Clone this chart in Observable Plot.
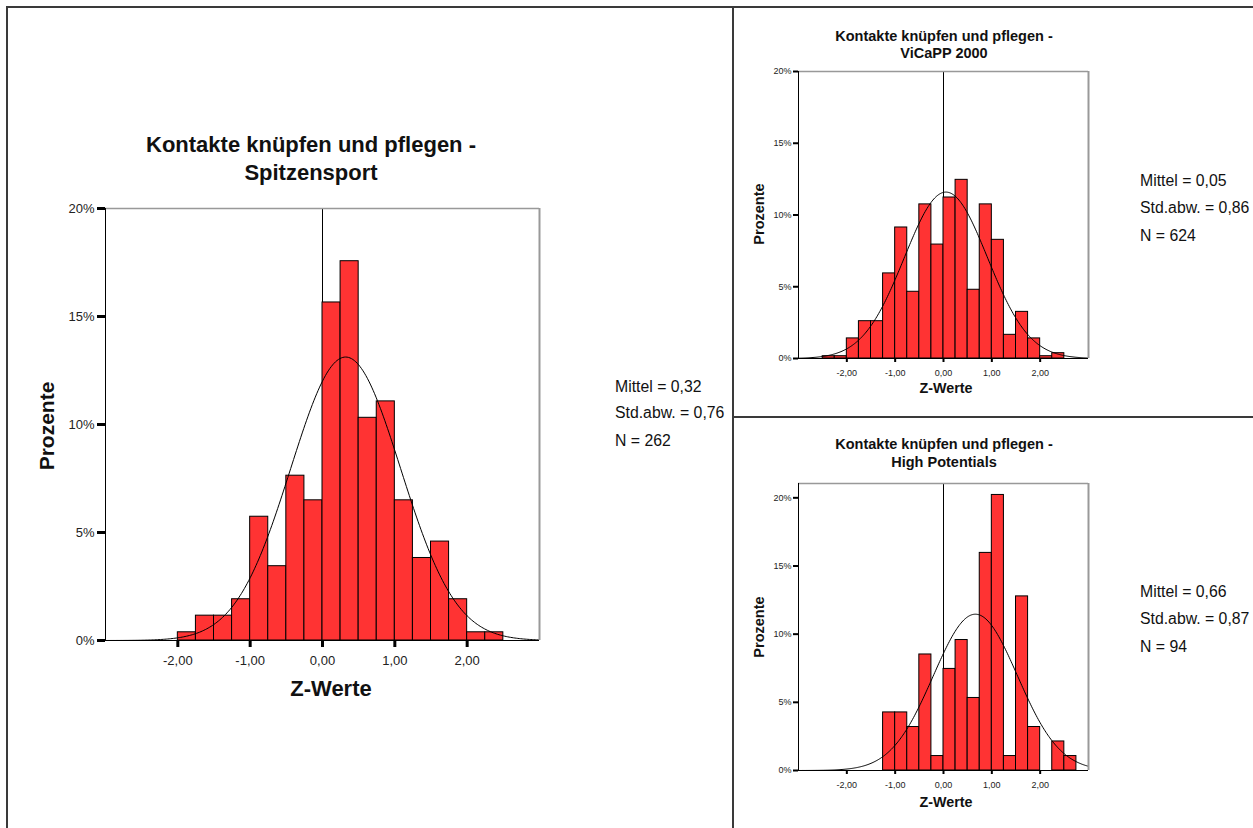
<!DOCTYPE html>
<html><head><meta charset="utf-8">
<script src="https://cdn.jsdelivr.net/npm/d3@7"></script>
<script src="https://cdn.jsdelivr.net/npm/@observablehq/plot@0.6"></script>
<style>
html,body{margin:0;padding:0;background:#fff;}
#page{position:relative;width:1253px;height:828px;overflow:hidden;font-family:"Liberation Sans",Arial,sans-serif;color:#111;}
.t{position:absolute;white-space:nowrap;line-height:1;}
.ln{position:absolute;background:#3a3a3a;}
.chart{position:absolute;}
</style></head>
<body><div id="page"></div>
<script>
// ---------- data ----------
const zTicks = [-2, -1, 0, 1, 2];
const pctTicks = [0, 5, 10, 15, 20];
const binWidth = 0.25;

const spitzenTitle = ["Kontakte knüpfen und pflegen -", "Spitzensport"];
const spitzenBinStart = [-2.0, -1.75, -1.5, -1.25, -1.0, -0.75, -0.5, -0.25, 0.0, 0.25, 0.5, 0.75, 1.0, 1.25, 1.5, 1.75, 2.0, 2.25];
const spitzenPct = [0.38, 1.15, 1.15, 1.91, 5.73, 3.44, 7.63, 6.49, 15.65, 17.56, 10.31, 11.07, 6.49, 3.82, 4.58, 1.91, 0.38, 0.38];
const spitzenStats = {mean: 0.32, sd: 0.76, n: 262};

const vicappTitle = ["Kontakte knüpfen und pflegen -", "ViCaPP 2000"];
const vicappBinStart = [-2.5, -2.25, -2.0, -1.75, -1.5, -1.25, -1.0, -0.75, -0.5, -0.25, 0.0, 0.25, 0.5, 0.75, 1.0, 1.25, 1.5, 1.75, 2.0, 2.25];
const vicappPct = [0.16, 0.16, 1.40, 2.60, 2.60, 5.93, 9.13, 4.65, 10.74, 7.94, 11.22, 12.45, 4.79, 10.74, 8.27, 1.65, 3.25, 1.40, 0.16, 0.37];
const vicappStats = {mean: 0.05, sd: 0.86, n: 624};

const hpTitle = ["Kontakte knüpfen und pflegen -", "High Potentials"];
const hpBinStart = [-1.25, -1.0, -0.75, -0.5, -0.25, 0.0, 0.25, 0.5, 0.75, 1.0, 1.25, 1.5, 1.75, 2.0, 2.25, 2.5];
const hpPct = [4.26, 4.26, 3.19, 8.51, 1.06, 7.45, 9.57, 5.32, 15.96, 20.21, 1.06, 12.77, 3.19, 0, 2.13, 1.06];
const hpStats = {mean: 0.66, sd: 0.87, n: 94};

const xLabel = "Z-Werte";
const yLabel = "Prozente";

// ---------- helpers ----------
const page = document.getElementById("page");
const fmtZ = d => d.toFixed(2).replace(".", ",");
const fmtP = d => d + "%";

function addText(txt, x, y, o = {}) {
  const d = document.createElement("div");
  d.className = "t";
  d.textContent = txt;
  d.style.left = x + "px";
  d.style.top = y + "px";
  d.style.fontSize = (o.size || 16) + "px";
  d.style.fontWeight = o.bold ? "bold" : "normal";
  let tr = o.anchor === "start" ? "translate(0,-50%)" : "translate(-50%,-50%)";
  if (o.rotate) tr += " rotate(-90deg)";
  d.style.transform = tr;
  page.appendChild(d);
}
function addLine(x, y, w, h) {
  const d = document.createElement("div");
  d.className = "ln";
  Object.assign(d.style, {left: x + "px", top: y + "px", width: w + "px", height: h + "px"});
  page.appendChild(d);
}

function histogram(binStart, pct, stats, L) {
  const bins = binStart.map((b, i) => ({x1: b, x2: b + binWidth, pct: pct[i]}));
  const scale = 100 * binWidth;
  const curve = d3.range(-3, 3.0001, 0.02).map(x => ({
    x, y: scale * Math.exp(-0.5 * ((x - stats.mean) / stats.sd) ** 2) / (stats.sd * Math.sqrt(2 * Math.PI))
  }));
  const svg = Plot.plot({
    width: L.width, height: L.height,
    marginLeft: L.ml, marginRight: L.mr, marginTop: L.mt, marginBottom: L.mb,
    style: {background: "transparent", fontFamily: '"Liberation Sans", Arial, sans-serif', overflow: "visible"},
    x: {domain: [-3, 3]},
    y: {domain: [0, L.yMax]},
    marks: [
      Plot.ruleX([0], {stroke: "#000", strokeWidth: 1}),
      Plot.rectY(bins, {x1: "x1", x2: "x2", y: "pct", fill: "#ff3333", stroke: "#000", strokeWidth: 1}),
      Plot.line(curve, {x: "x", y: "y", stroke: "#000", strokeWidth: 1, clip: true}),
      Plot.ruleY([L.yMax], {stroke: "#999", strokeWidth: 1.5}),
      Plot.ruleX([3], {stroke: "#999", strokeWidth: 2}),
      Plot.ruleX([-3], {stroke: "#000", strokeWidth: 1}),
      Plot.ruleY([0], {stroke: "#000", strokeWidth: 1}),
      Plot.axisY(pctTicks, {tickFormat: fmtP, tickSize: L.tsy, tickPadding: L.tpy, stroke: "#000", strokeWidth: L.tw, fontSize: L.fs, fill: "#222", label: null}),
      Plot.axisX(zTicks, {tickFormat: fmtZ, tickSize: L.tsx, tickPadding: L.tpx, stroke: "#000", strokeWidth: L.tw, fontSize: L.fs, fill: "#222", label: null})
    ]
  });
  const div = document.createElement("div");
  div.className = "chart";
  Object.assign(div.style, {left: L.left + "px", top: L.top + "px", width: L.width + "px", height: L.height + "px"});
  div.appendChild(svg);
  page.appendChild(div);
}

function statsText(s, x, ys) {
  addText("Mittel = " + s.mean.toFixed(2).replace(".", ","), x, ys[0], {anchor: "start", size: 15.8});
  addText("Std.abw. = " + s.sd.toFixed(2).replace(".", ","), x, ys[1], {anchor: "start", size: 15.8});
  addText("N = " + s.n, x, ys[2], {anchor: "start", size: 15.8});
}

// ---------- borders ----------
addLine(6, 6, 1247, 2);
addLine(6, 6, 2, 822);
addLine(732, 6, 2, 822);
addLine(733, 416, 520, 1.5);

// ---------- left chart ----------
histogram(spitzenBinStart, spitzenPct, spitzenStats,
  {left: 0, top: 190, width: 560, height: 520, ml: 105, mr: 21, mt: 18, mb: 70, yMax: 20,
   tsy: 8, tpy: 3, tsx: 7, tpx: 8, tw: 3, fs: 13});
addText(spitzenTitle[0], 311, 145, {size: 22, bold: true});
addText(spitzenTitle[1], 311, 173, {size: 22, bold: true});
addText(xLabel, 331, 689, {size: 22, bold: true});
addText(yLabel, 46, 426, {size: 21, bold: true, rotate: true});
statsText(spitzenStats, 615, [387, 413, 441]);

// ---------- top right ----------
histogram(vicappBinStart, vicappPct, vicappStats,
  {left: 740, top: 60, width: 360, height: 340, ml: 58, mr: 12, mt: 11, mb: 42, yMax: 20,
   tsy: 5, tpy: 2, tsx: 4, tpx: 7, tw: 2, fs: 9});
addText(vicappTitle[0], 944, 36, {size: 14.5, bold: true});
addText(vicappTitle[1], 944, 53, {size: 14.5, bold: true});
addText(xLabel, 946, 388, {size: 14.3, bold: true});
addText(yLabel, 759, 214, {size: 14.5, bold: true, rotate: true});
statsText(vicappStats, 1140, [181, 208, 236]);

// ---------- bottom right ----------
histogram(hpBinStart, hpPct, hpStats,
  {left: 740, top: 470, width: 360, height: 340, ml: 58, mr: 12, mt: 13, mb: 40, yMax: 21.05,
   tsy: 5, tpy: 2, tsx: 4, tpx: 7, tw: 2, fs: 9});
addText(hpTitle[0], 944, 444, {size: 14.5, bold: true});
addText(hpTitle[1], 944, 462, {size: 14.5, bold: true});
addText(xLabel, 946, 802, {size: 14.3, bold: true});
addText(yLabel, 759, 627, {size: 14.5, bold: true, rotate: true});
statsText(hpStats, 1140, [592, 619, 647]);
</script>
</body></html>
